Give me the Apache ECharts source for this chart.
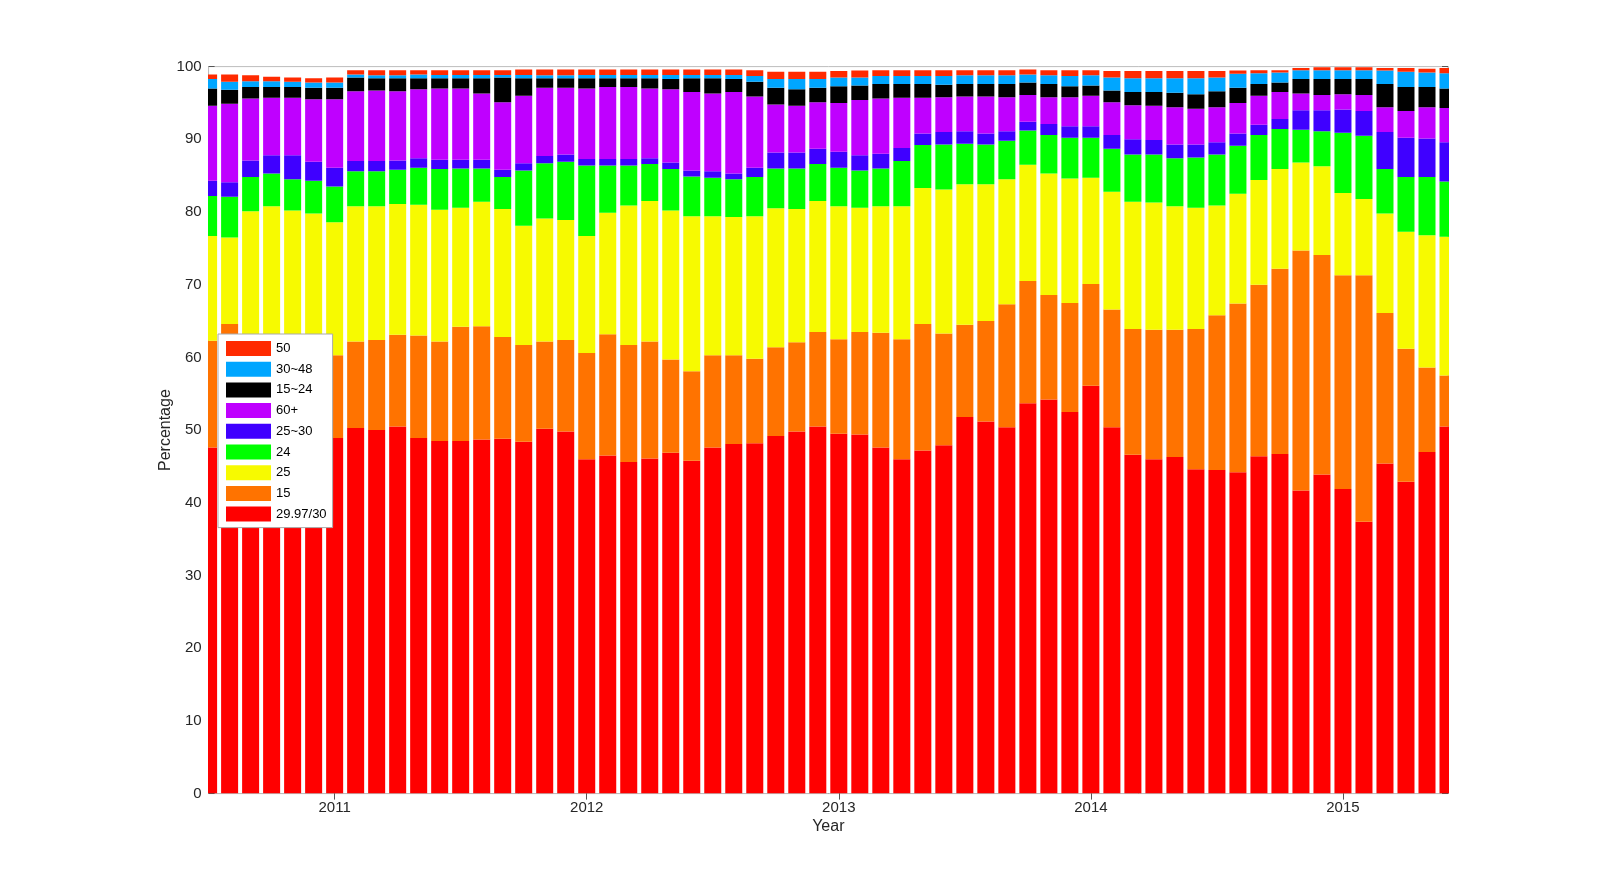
<!DOCTYPE html>
<html>
<head>
<meta charset="utf-8">
<script src="https://cdn.jsdelivr.net/npm/echarts@6/dist/echarts.min.js"></script>
<style>
html,body{margin:0;padding:0;background:#fff;}
#chart{width:1600px;height:893px;}
</style>
</head>
<body>
<div id="chart"></div>
<script>
// Months: July 2010 .. June 2015
var months = [
 '2010-07','2010-08','2010-09','2010-10','2010-11','2010-12',
 '2011-01','2011-02','2011-03','2011-04','2011-05','2011-06','2011-07','2011-08','2011-09','2011-10','2011-11','2011-12',
 '2012-01','2012-02','2012-03','2012-04','2012-05','2012-06','2012-07','2012-08','2012-09','2012-10','2012-11','2012-12',
 '2013-01','2013-02','2013-03','2013-04','2013-05','2013-06','2013-07','2013-08','2013-09','2013-10','2013-11','2013-12',
 '2014-01','2014-02','2014-03','2014-04','2014-05','2014-06','2014-07','2014-08','2014-09','2014-10','2014-11','2014-12',
 '2015-01','2015-02','2015-03','2015-04','2015-05','2015-06'
];
var yTicks = [0,10,20,30,40,50,60,70,80,90,100];

// Series values (percent), bottom to top of stack
var fps30 = [47.6,47.5,48.5,48.8,48.5,48.7,48.9,50.3,50.0,50.5,48.9,48.5,48.5,48.7,48.8,48.4,50.2,49.8,46.0,46.5,45.6,46.1,46.9,45.8,47.6,48.1,48.2,49.2,49.8,50.5,49.5,49.4,47.6,46.0,47.2,47.9,51.8,51.2,50.4,53.7,54.2,52.5,56.1,50.4,46.6,46.0,46.3,44.6,44.5,44.2,46.4,46.7,41.7,43.9,41.9,37.4,45.4,42.9,47.0,50.5];
var fps15 = [14.7,17.1,14.0,13.2,13.0,12.3,11.4,11.9,12.4,12.6,14.1,13.7,15.7,15.6,14.0,13.3,12.0,12.6,14.6,16.7,16.1,16.1,12.8,12.3,12.7,12.2,11.6,12.2,12.3,13.0,13.0,14.1,15.8,16.5,17.4,15.4,12.7,13.8,16.9,16.8,14.4,15.0,14.0,16.2,17.3,17.8,17.5,19.3,21.3,23.2,23.6,25.5,33.0,30.2,29.4,33.9,20.7,18.3,11.6,7.0];
var fps25 = [14.4,11.9,17.6,18.8,18.7,18.8,18.3,18.6,18.4,18.0,18.0,18.1,16.4,17.1,17.6,16.4,16.9,16.5,16.1,16.7,19.2,19.3,20.5,21.3,19.1,19.0,19.6,19.1,18.3,18.0,18.3,17.1,17.4,18.3,18.7,19.8,19.3,18.8,17.2,16.0,16.7,17.1,14.6,16.2,17.5,17.5,17.0,16.7,15.1,15.1,14.4,13.7,12.1,12.2,11.3,10.5,13.7,16.1,18.2,19.1];
var fps24 = [5.5,5.6,4.7,4.5,4.3,4.5,4.9,4.8,4.8,4.7,5.1,5.6,5.4,4.6,4.4,7.6,7.6,8.0,9.7,6.5,5.5,5.1,5.7,5.5,5.3,5.2,5.4,5.5,5.6,5.1,5.3,5.1,5.2,6.2,5.9,6.2,5.6,5.5,5.3,4.7,5.3,5.6,5.5,5.9,6.5,6.6,6.6,6.9,7.0,6.6,6.2,5.5,4.5,4.8,8.3,8.7,6.1,7.5,8.0,7.6];
var fps25to30 = [2.1,2.0,2.3,2.5,3.3,2.6,2.6,1.4,1.4,1.3,1.3,1.3,1.2,1.2,1.0,1.0,1.0,1.0,0.9,0.9,0.9,0.8,0.9,0.8,0.9,0.8,1.3,2.2,2.2,2.1,2.2,2.1,2.0,1.8,1.6,1.7,1.7,1.5,1.3,1.2,1.5,1.6,1.6,1.9,2.1,2.0,1.9,1.8,1.7,1.7,1.4,1.4,2.7,2.9,3.2,3.4,5.1,5.4,5.3,5.4];
var fps60plus = [10.3,10.8,8.5,7.9,7.9,8.6,9.4,9.6,9.7,9.5,9.5,9.8,9.8,9.1,9.3,9.3,9.4,9.2,9.7,9.9,9.9,9.6,10.1,10.8,10.7,11.2,9.8,6.6,6.4,6.4,6.7,7.6,7.6,6.9,4.9,4.8,4.8,5.1,4.7,3.7,3.7,4.0,4.2,4.5,4.7,4.7,5.1,4.9,4.8,4.2,4.0,3.7,2.3,2.1,2.1,2.2,3.4,3.7,4.3,4.7];
var fps15to24 = [2.4,1.9,1.6,1.5,1.5,1.6,1.6,1.9,1.7,1.8,1.5,1.4,1.4,2.1,3.4,2.4,1.3,1.3,1.4,1.2,1.2,1.4,1.4,1.9,2.1,1.8,2.0,2.3,2.3,2.0,2.3,2.0,2.0,1.9,1.9,1.7,1.7,1.7,1.8,1.7,1.8,1.5,1.4,1.6,1.8,1.9,2.0,2.0,2.2,2.1,1.6,1.3,2.0,2.2,2.1,2.2,3.2,3.3,2.8,2.7];
var fps30to48 = [1.3,1.1,0.8,0.8,0.7,0.7,0.7,0.4,0.4,0.4,0.5,0.45,0.45,0.45,0.35,0.45,0.4,0.4,0.45,0.45,0.45,0.45,0.55,0.45,0.45,0.55,0.8,1.2,1.4,1.2,1.2,1.1,1.1,1.1,1.1,1.2,1.2,1.2,1.2,1.1,1.2,1.4,1.4,1.8,1.9,1.9,2.0,2.2,1.9,1.9,1.5,1.4,1.2,1.2,1.2,1.2,1.85,2.1,2.0,2.1];
var fps50 = [0.6,1.0,0.8,0.6,0.6,0.6,0.7,0.6,0.7,0.7,0.6,0.65,0.65,0.65,0.65,0.75,0.8,0.8,0.75,0.75,0.75,0.75,0.75,0.75,0.75,0.75,0.8,1.0,1.0,1.0,0.9,0.95,0.8,0.8,0.8,0.8,0.7,0.7,0.7,0.7,0.7,0.8,0.7,0.9,1.0,1.0,1.0,1.0,0.9,0.45,0.4,0.3,0.3,0.4,0.4,0.4,0.35,0.5,0.5,0.7];

var seriesDefs = [
  {name:'29.97/30', data:fps30, color:'#FF0000'},
  {name:'15', data:fps15, color:'#FF7300'},
  {name:'25', data:fps25, color:'#F7FA00'},
  {name:'24', data:fps24, color:'#00FF00'},
  {name:'25~30', data:fps25to30, color:'#3F00FF'},
  {name:'60+', data:fps60plus, color:'#BF00FF'},
  {name:'15~24', data:fps15to24, color:'#000000'},
  {name:'30~48', data:fps30to48, color:'#00A6FF'},
  {name:'50', data:fps50, color:'#FF2A00'}
];

// Build stacked rows [index, bottom, top] from the series arrays
var running = months.map(function(){ return 0; });
seriesDefs.forEach(function(s){
  s.rows = s.data.map(function(v, i){
    var r = [i, running[i], running[i] + v];
    running[i] += v;
    return r;
  });
});

var isJan = function (idx) { return months[idx].slice(5) === '01'; };
var font = 'Liberation Sans, Arial, Helvetica, sans-serif';

function renderBar(params, api) {
  var i = api.value(0);
  var lo = api.coord([i, api.value(1)]);
  var hi = api.coord([i, api.value(2)]);
  var w = api.size([1, 0])[0] * 0.81;
  return {
    type:'rect',
    shape:{x: lo[0] - w / 2, y: hi[1], width: w, height: lo[1] - hi[1]},
    style: api.style()
  };
}

var chart = echarts.init(document.getElementById('chart'), null, {renderer:'canvas'});
chart.setOption({
  backgroundColor:'#ffffff',
  animation:false,
  grid:{left:208.6, right:152, top:66.6, bottom:99.4, show:true, borderColor:'#bdbdbd', borderWidth:1, backgroundColor:'transparent', containLabel:false},
  legend:{
    orient:'vertical', left:218, top:334,
    data:['50','30~48','15~24','60+','25~30','24','25','15','29.97/30'],
    itemWidth:45, itemHeight:15, itemGap:5.7,
    padding:[7,6,6,8],
    backgroundColor:'#ffffff', borderColor:'#aaaaaa', borderWidth:1,
    textStyle:{fontFamily:font, fontSize:13, color:'#000'},
    icon:'rect'
  },
  xAxis:[{
    type:'category', data:months, boundaryGap:false, position:'bottom',
    name:'Year', nameLocation:'middle', nameGap:25, nameMoveOverlap:false,
    nameTextStyle:{fontFamily:font, fontSize:16, color:'#262626'},
    axisLine:{show:true, lineStyle:{color:'#555'}},
    axisTick:{show:true, inside:true, length:6, interval:function(i){return isJan(i);}, lineStyle:{color:'#555'}},
    axisLabel:{interval:function(i){return isJan(i);}, formatter:function(v){return v.slice(0,4);}, fontFamily:font, fontSize:15, color:'#262626', margin:7},
    splitLine:{show:false}
  },{
    type:'category', data:months, boundaryGap:false, position:'top',
    axisLine:{show:true, lineStyle:{color:'#bdbdbd'}},
    axisTick:{show:true, inside:true, length:6, interval:function(i){return isJan(i);}, lineStyle:{color:'#555'}},
    axisLabel:{show:false}, splitLine:{show:false}
  }],
  yAxis:[{
    type:'value', min:0, max:100, interval:10, position:'left',
    name:'Percentage', nameLocation:'middle', nameGap:35, nameRotate:90, nameMoveOverlap:false,
    nameTextStyle:{fontFamily:font, fontSize:16, color:'#262626'},
    axisLine:{show:true, lineStyle:{color:'#bdbdbd'}},
    axisTick:{show:true, inside:true, length:6, lineStyle:{color:'#555'}},
    axisLabel:{fontFamily:font, fontSize:15, color:'#262626', margin:7,
      formatter:function(v){return yTicks.indexOf(v) >= 0 ? String(v) : '';}},
    splitLine:{show:false}
  },{
    type:'value', min:0, max:100, interval:10, position:'right',
    axisLine:{show:true, lineStyle:{color:'#bdbdbd'}},
    axisTick:{show:true, inside:true, length:6, lineStyle:{color:'#555'}},
    axisLabel:{show:false}, splitLine:{show:false}
  }],
  series: seriesDefs.map(function(s){
    return {
      name:s.name, type:'custom', data:s.rows,
      xAxisIndex:0, yAxisIndex:0,
      encode:{x:0, y:[1,2]},
      renderItem: renderBar,
      clip:true,
      itemStyle:{color:s.color},
      emphasis:{disabled:true}
    };
  })
});
</script>
</body>
</html>
